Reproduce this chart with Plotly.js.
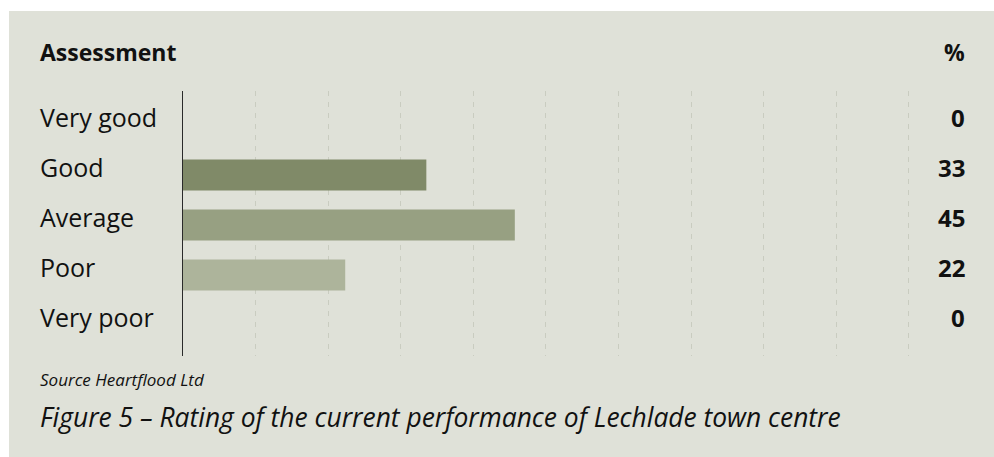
<!DOCTYPE html>
<html>
<head>
<meta charset="utf-8">
<script src="https://cdn.plot.ly/plotly-3.0.1.min.js"></script>
<style>html,body{margin:0;padding:0;background:#fff}#chart{width:994px;height:457px}</style>
</head>
<body>
<div id="chart"></div>
<script>
// Data
var categories = ["Very good", "Good", "Average", "Poor", "Very poor"];
var percentages = [0, 33, 45, 22, 0];
var barColors = ["#808a68", "#808a68", "#97a082", "#adb49b", "#adb49b"];
var headerLeft = "Assessment";
var headerRight = "%";
var sourceText = "Source Heartflood Ltd";
var captionText = "Figure 5 \u2013 Rating of the current performance of Lechlade town centre";

// Layout geometry (pixels)
var W = 994, H = 457;
var L = 183, R = 915, T = 91, B = 356;
var pw = R - L, ph = B - T;
function px2x(p) { return (p - L) / pw; }
function py2y(p) { return (B - p) / ph; }

var FONT = "Open Sans, Noto Sans, sans-serif";
var TXT = "#111111";

var trace = {
  type: "bar",
  orientation: "h",
  y: categories,
  x: percentages,
  width: 0.62,
  marker: { color: barColors, line: { width: 0 } },
  hoverinfo: "skip"
};

var annotations = [];
categories.forEach(function (c, i) {
  annotations.push({
    xref: "paper", yref: "y", x: px2x(38), y: c, yshift: 8,
    text: c, showarrow: false, xanchor: "left", yanchor: "middle",
    font: { family: FONT, size: 25, color: TXT }
  });
  annotations.push({
    xref: "paper", yref: "y", x: px2x(967), y: c, yshift: 8,
    text: "<b>" + percentages[i] + "</b>", showarrow: false, xanchor: "right", yanchor: "middle",
    font: { family: FONT, size: 24, color: TXT }
  });
});
annotations.push({
  xref: "paper", yref: "paper", x: px2x(38), y: py2y(52), text: "<b>" + headerLeft + "</b>",
  showarrow: false, xanchor: "left", yanchor: "middle",
  font: { family: FONT, size: 23, color: TXT }
});
annotations.push({
  xref: "paper", yref: "paper", x: px2x(967), y: py2y(52), text: "<b>" + headerRight + "</b>",
  showarrow: false, xanchor: "right", yanchor: "middle",
  font: { family: FONT, size: 23, color: TXT }
});
annotations.push({
  xref: "paper", yref: "paper", x: px2x(38), y: py2y(379), text: "<i>" + sourceText + "</i>",
  showarrow: false, xanchor: "left", yanchor: "middle",
  font: { family: FONT, size: 17, color: TXT }
});
annotations.push({
  xref: "paper", yref: "paper", x: px2x(38), y: py2y(417), text: "<i>" + captionText + "</i>",
  showarrow: false, xanchor: "left", yanchor: "middle",
  font: { family: FONT, size: 26.4, color: TXT }
});

var layout = {
  width: W, height: H,
  margin: { l: L, r: W - R, t: T, b: H - B, pad: 0 },
  paper_bgcolor: "#ffffff",
  plot_bgcolor: "rgba(0,0,0,0)",
  showlegend: false,
  xaxis: {
    range: [0, 99.27], tick0: 0, dtick: 9.845,
    showgrid: true, gridcolor: "#c9ccc0", gridwidth: 1, griddash: "5px,6px",
    zeroline: false, showline: false, showticklabels: false, ticks: "", fixedrange: true
  },
  yaxis: {
    type: "category", categoryorder: "array", categoryarray: categories,
    range: [4.62, -0.68],
    showgrid: false, zeroline: false, showticklabels: false, ticks: "",
    showline: true, linecolor: "#2a2a2a", linewidth: 1.5, fixedrange: true
  },
  shapes: [{
    type: "rect", xref: "paper", yref: "paper", layer: "below",
    x0: px2x(9), x1: px2x(W + 5), y0: py2y(H + 5), y1: py2y(11),
    fillcolor: "#dfe1d8", line: { width: 0 }
  }],
  annotations: annotations
};

Plotly.newPlot("chart", [trace], layout, { displayModeBar: false, staticPlot: true });
</script>
</body>
</html>
